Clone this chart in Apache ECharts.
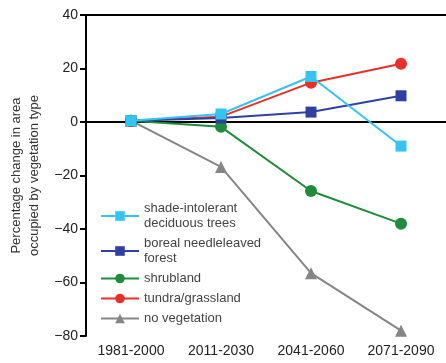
<!DOCTYPE html>
<html><head><meta charset="utf-8">
<script src="https://cdn.jsdelivr.net/npm/echarts@6/dist/echarts.min.js"></script>
<style>html,body{margin:0;padding:0;background:#fff}#c{width:446px;height:363px}</style>
</head><body><div id="c"></div>
<script>
const categories = ['1981-2000', '2011-2030', '2041-2060', '2071-2090'];
const shadeIntolerant = [0.5, 3, 17, -9];
const borealNeedle = [0.5, 1.5, 3.7, 9.8];
const shrubland = [0.5, -1.8, -25.8, -38];
const tundra = [0.5, 2, 14.7, 21.8];
const noVegetation = [0.5, -16.8, -56.5, -78];
const seriesNames = ['shade-intolerant\ndeciduous trees', 'boreal needleleaved\nforest', 'shrubland', 'tundra/grassland', 'no vegetation'];
const yTicks = {min: -80, max: 40, interval: 20};

const colors = ['#35C3F2', '#2F40A0', '#1F8B3B', '#E8302B', '#858585'];
const symbols = ['rect', 'rect', 'circle', 'circle', 'triangle'];
const datas = [shadeIntolerant, borealNeedle, shrubland, tundra, noVegetation];
const font = 'Liberation Sans, Arial, sans-serif';

const series = datas.map((d, i) => ({
  name: seriesNames[i], type: 'line', data: d, symbol: symbols[i],
  symbolSize: symbols[i] === 'circle' ? 12 : (symbols[i] === 'triangle' ? 12 : 11),
  itemStyle: {color: colors[i]}, lineStyle: {color: colors[i], width: 2},
  z: 10 - i
}));
series.push({
  type: 'line', data: [], name: 'zero',
  markLine: {silent: true, symbol: 'none', label: {show: false},
    lineStyle: {color: '#000', type: [7, 5], width: 2},
    data: [{yAxis: 0}]}
});

const chart = echarts.init(document.getElementById('c'));
chart.setOption({
  animation: false,
  color: colors,
  grid: {left: 86, right: 0, top: 15, bottom: 27, containLabel: false, outerBoundsMode: 'none'},
  legend: {
    data: seriesNames, orient: 'vertical', left: 95, top: 196,
    itemWidth: 38, itemHeight: 12, itemGap: 5,
    textStyle: {fontFamily: font, fontSize: 13, color: '#444', lineHeight: 15}
  },
  xAxis: [{
    type: 'category', data: categories, position: 'bottom',
    axisLine: {lineStyle: {color: '#000', width: 2}},
    axisTick: {inside: true, length: 6, alignWithLabel: true, lineStyle: {color: '#000', width: 2}},
    axisLabel: {fontFamily: font, fontSize: 14, color: '#222', margin: 8}
  }, {
    type: 'category', data: categories, position: 'top',
    axisLine: {lineStyle: {color: '#000', width: 2}},
    axisTick: {show: false}, axisLabel: {show: false}
  }],
  yAxis: {
    type: 'value', min: yTicks.min, max: yTicks.max, interval: yTicks.interval,
    name: 'Percentage change in area\noccupied by vegetation type',
    nameLocation: 'middle', nameGap: 43,
    nameTextStyle: {fontFamily: font, fontSize: 13, color: '#333', lineHeight: 18},
    axisLine: {show: true, lineStyle: {color: '#000', width: 2}},
    axisTick: {show: true, length: 6, lineStyle: {color: '#000', width: 2}},
    splitLine: {show: false},
    axisLabel: {fontFamily: font, fontSize: 14, color: '#222', margin: 8,
      formatter: v => v < 0 ? '\u2212' + Math.abs(v) : String(v)}
  },
  series: series
});
</script></body></html>
